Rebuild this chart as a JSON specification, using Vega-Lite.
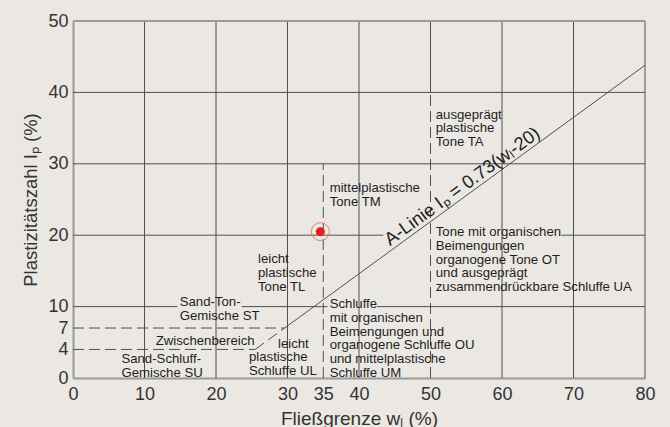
{
  "$schema": "https://vega.github.io/schema/vega-lite/v6.json",
  "width": 572,
  "height": 357,
  "autosize": {"type": "none"},
  "padding": {"left": 73, "top": 21, "right": 25, "bottom": 49},
  "background": "#ebe7e3",
  "config": {
    "view": {"stroke": null},
    "font": "Liberation Sans",
    "text": {"font": "Liberation Sans"}
  },
  "datasets": {
    "grid_solid": [
      {"x": 10, "y": 0, "x2": 10, "y2": 50},
      {"x": 20, "y": 0, "x2": 20, "y2": 50},
      {"x": 30, "y": 0, "x2": 30, "y2": 50},
      {"x": 40, "y": 0, "x2": 40, "y2": 50},
      {"x": 50, "y": 40, "x2": 50, "y2": 50},
      {"x": 60, "y": 0, "x2": 60, "y2": 50},
      {"x": 70, "y": 0, "x2": 70, "y2": 50},
      {"x": 80, "y": 0, "x2": 80, "y2": 50},
      {"x": 0, "y": 40, "x2": 80, "y2": 40},
      {"x": 0, "y": 30, "x2": 80, "y2": 30},
      {"x": 0, "y": 20, "x2": 43.4, "y2": 20},
      {"x": 68.3, "y": 20, "x2": 80, "y2": 20},
      {"x": 0, "y": 10, "x2": 14.6, "y2": 10},
      {"x": 23.6, "y": 10, "x2": 35.6, "y2": 10},
      {"x": 42.5, "y": 10, "x2": 80, "y2": 10},
      {"x": 29.59, "y": 7, "x2": 80, "y2": 43.8}
    ],
    "grid_dashed": [
      {"x": 35, "y": 0, "x2": 35, "y2": 30},
      {"x": 50, "y": 0, "x2": 50, "y2": 40},
      {"x": 0, "y": 7, "x2": 29.59, "y2": 7},
      {"x": 0, "y": 4, "x2": 25.48, "y2": 4},
      {"x": 25.48, "y": 4, "x2": 29.59, "y2": 7}
    ],
    "frame": [
      {"x": 0, "y": 50, "x2": 80, "y2": 50}
    ],
    "labels": [
      {"x": 14.92, "y": 11.51, "label": "Sand-Ton-\nGemische ST"},
      {"x": 11.57, "y": 6.06, "label": "Zwischenbereich"},
      {"x": 6.77, "y": 3.5, "label": "Sand-Schluff-\nGemische SU"},
      {"x": 28.67, "y": 5.64, "label": "leicht"},
      {"x": 24.61, "y": 3.72, "label": "plastische\nSchluffe UL"},
      {"x": 25.87, "y": 17.48, "label": "leicht\nplastische\nTone TL"},
      {"x": 35.9, "y": 27.41, "label": "mittelplastische\nTone TM"},
      {"x": 35.9, "y": 11.19, "label": "Schluffe\nmit organischen\nBeimengungen und\norganogene Schluffe OU\nund mittelplastische\nSchluffe UM"},
      {"x": 50.73, "y": 37.72, "label": "ausgeprägt\nplastische\nTone TA"},
      {"x": 50.73, "y": 21.3, "label": "Tone mit organischen\nBeimengungen\norganogene Tone OT\nund ausgeprägt\nzusammendrückbare Schluffe UA"}
    ],
    "aline": [
      {"x": 55.24, "y": 25.73, "label": "A-Linie Iₚ = 0.73(wₗ-20)"}
    ],
    "sample": [
      {"x": 34.6, "y": 20.5}
    ]
  },
  "layer": [
    {
      "data": {"name": "grid_solid"},
      "mark": {"type": "rule", "color": "#505050", "strokeWidth": 1},
      "encoding": {
        "x": {
          "field": "x", "type": "quantitative",
          "scale": {"domain": [0, 80], "nice": false, "zero": false},
          "axis": {
            "title": "Fließgrenze wₗ (%)",
            "values": [0, 10, 20, 30, 35, 40, 50, 60, 70, 80],
            "grid": false, "ticks": false,
            "labelFlush": false, "labelOverlap": false,
            "labelFontSize": 18, "labelColor": "#333333", "labelPadding": 7,
            "domainColor": "#9a9a9a", "domainWidth": 2,
            "titleFontSize": 19, "titleFontWeight": "normal", "titleColor": "#333333", "titlePadding": 6
          }
        },
        "y": {
          "field": "y", "type": "quantitative",
          "scale": {"domain": [0, 50], "nice": false, "zero": false},
          "axis": {
            "title": "Plastizitätszahl Iₚ (%)",
            "values": [0, 4, 7, 10, 20, 30, 40, 50],
            "grid": false, "ticks": false,
            "labelOverlap": false,
            "labelFontSize": 18, "labelColor": "#333333", "labelPadding": 5,
            "domainColor": "#9a9a9a", "domainWidth": 2,
            "titleFontSize": 18.5, "titleFontWeight": "normal", "titleColor": "#333333", "titlePadding": 7
          }
        },
        "x2": {"field": "x2"},
        "y2": {"field": "y2"}
      }
    },
    {
      "data": {"name": "grid_dashed"},
      "mark": {"type": "rule", "color": "#505050", "strokeWidth": 1, "strokeDash": [11, 5]},
      "encoding": {
        "x": {"field": "x", "type": "quantitative"},
        "y": {"field": "y", "type": "quantitative"},
        "x2": {"field": "x2"},
        "y2": {"field": "y2"}
      }
    },
    {
      "data": {"name": "frame"},
      "mark": {"type": "rule", "color": "#9a9a9a", "strokeWidth": 2},
      "encoding": {
        "x": {"field": "x", "type": "quantitative"},
        "y": {"field": "y", "type": "quantitative"},
        "x2": {"field": "x2"},
        "y2": {"field": "y2"}
      }
    },
    {
      "data": {"name": "labels"},
      "mark": {"type": "text", "align": "left", "baseline": "top", "fontSize": 13.2, "lineHeight": 13.8, "lineBreak": "\n", "color": "#1e1e1e"},
      "encoding": {
        "x": {"field": "x", "type": "quantitative"},
        "y": {"field": "y", "type": "quantitative"},
        "text": {"field": "label", "type": "nominal"}
      }
    },
    {
      "data": {"name": "aline"},
      "mark": {"type": "text", "align": "center", "baseline": "middle", "fontSize": 18.5, "angle": -36.1, "dy": -10, "color": "#1e1e1e"},
      "encoding": {
        "x": {"field": "x", "type": "quantitative"},
        "y": {"field": "y", "type": "quantitative"},
        "text": {"field": "label", "type": "nominal"}
      }
    },
    {
      "data": {"name": "sample"},
      "mark": {"type": "point", "shape": "circle", "filled": false, "size": 324, "stroke": "#ef7a6a", "strokeWidth": 1, "opacity": 1},
      "encoding": {
        "x": {"field": "x", "type": "quantitative"},
        "y": {"field": "y", "type": "quantitative"}
      }
    },
    {
      "data": {"name": "sample"},
      "mark": {"type": "point", "shape": "circle", "filled": true, "size": 81, "color": "#e81c1c", "opacity": 1},
      "encoding": {
        "x": {"field": "x", "type": "quantitative"},
        "y": {"field": "y", "type": "quantitative"}
      }
    }
  ]
}
